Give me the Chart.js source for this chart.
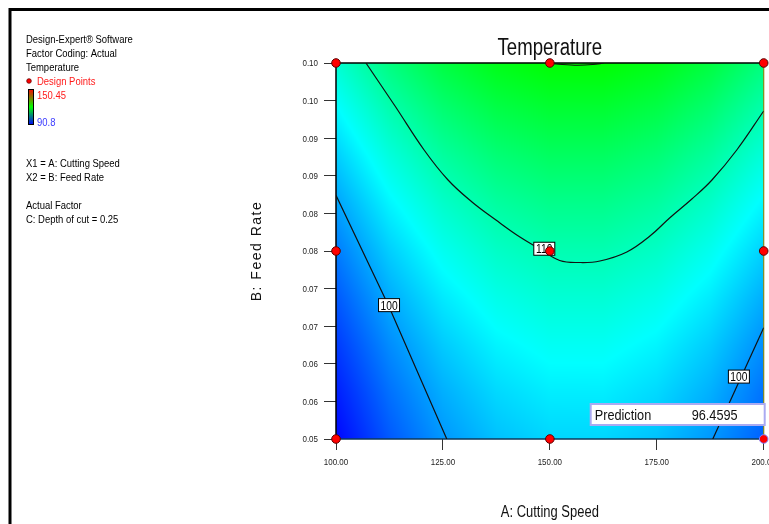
<!DOCTYPE html>
<html>
<head>
<meta charset="utf-8">
<title>Temperature</title>
<script src="https://cdn.jsdelivr.net/npm/chart.js@4.4.1/dist/chart.umd.min.js"></script>
<style>
  html, body { margin: 0; padding: 0; background: #fff; }
</style>
</head>
<body>
<canvas id="myChart" width="769" height="524"></canvas>
<script>
// grid of the fitted temperature surface
const cuttingSpeed = [100, 112.5, 125, 137.5, 150, 162.5, 175, 187.5, 200];
const feedRate = [0.05, 0.05625, 0.0625, 0.06875, 0.075, 0.08125, 0.0875, 0.09375, 0.10];
// rows go from feed 0.05 (bottom) up to feed 0.10 (top)
const temperature = [
  [91.10, 95.97, 99.63, 102.07, 103.30, 103.32, 102.13, 99.72, 96.46],
  [92.51, 97.38, 101.03, 103.48, 104.71, 104.73, 103.53, 101.13, 97.51],
  [94.13, 98.99, 102.65, 105.09, 106.33, 106.34, 105.15, 102.74, 99.13],
  [95.96, 100.83, 104.48, 106.93, 108.16, 108.18, 106.98, 104.58, 100.96],
  [98.00, 102.87, 106.53, 108.97, 110.20, 110.22, 109.03, 106.62, 103.00],
  [100.26, 105.13, 108.78, 111.23, 112.46, 112.48, 111.28, 108.88, 105.26],
  [102.73, 107.59, 111.25, 113.69, 114.93, 114.94, 113.75, 111.34, 107.73],
  [105.41, 110.28, 113.93, 116.38, 117.61, 117.63, 116.43, 114.03, 110.41],
  [108.30, 113.17, 116.83, 119.27, 120.50, 120.52, 119.33, 116.92, 113.30]
];
const colorMin = 90.8;
const colorMax = 150.45;

// design points
const designSpeed = [100, 150, 200, 100, 150, 200, 100, 150, 200];
const designFeed = [0.05, 0.05, 0.05, 0.075, 0.075, 0.075, 0.10, 0.10, 0.10];
const predictionValue = 96.4595;

// contour lines
const contour100Left = [{x: 100, y: 0.0824}, {x: 112.4, y: 0.0676}, {x: 125.9, y: 0.05}];
const contour100Right = [{x: 200, y: 0.0648}, {x: 188.1, y: 0.05}];
const contour110 = [
  {x: 107.0, y: 0.1000}, {x: 113.8, y: 0.09428}, {x: 120.6, y: 0.08843}, {x: 126.2, y: 0.08444},
  {x: 131.8, y: 0.08152}, {x: 137.4, y: 0.07912}, {x: 143.0, y: 0.07686}, {x: 147.7, y: 0.07527},
  {x: 152.3, y: 0.07374}, {x: 157.0, y: 0.07347}, {x: 161.7, y: 0.07367}, {x: 168.0, y: 0.07487},
  {x: 173.4, y: 0.07699}, {x: 178.0, y: 0.07939}, {x: 183.2, y: 0.08191}, {x: 187.9, y: 0.08444},
  {x: 193.7, y: 0.08843}, {x: 200.0, y: 0.09362}
];
const contour120 = [{x: 149.8, y: 0.10}, {x: 153, y: 0.0998}, {x: 156.5, y: 0.0997}, {x: 160, y: 0.0998}, {x: 162.6, y: 0.10}];
const contourLabelText = ['100', '110', '100'];
const contourLabelSpeed = [112.4, 148.7, 194.2];
const contourLabelFeed = [0.0678, 0.0753, 0.0583];

// axis ticks
const xTickValues = [100, 125, 150, 175, 200];
const xTickLabels = ['100.00', '125.00', '150.00', '175.00', '200.00'];
const yTickValues = [0.05, 0.055, 0.06, 0.065, 0.07, 0.075, 0.08, 0.085, 0.09, 0.095, 0.10];
const yTickLabels = ['0.05', '0.06', '0.06', '0.07', '0.07', '0.08', '0.08', '0.09', '0.09', '0.10', '0.10'];

const sans = "'Liberation Sans', Arial, sans-serif";
const colorStops = [[0, 0, 255], [0, 255, 255], [0, 255, 0], [255, 255, 0], [255, 0, 0]];

function tempColor(t) {
    var f = (t - colorMin) / (colorMax - colorMin) * 4;
    f = Math.max(0, Math.min(3.9999, f));
    var i = Math.floor(f), r = f - i;
    var a = colorStops[i], b = colorStops[i + 1];
    return [a[0] + (b[0] - a[0]) * r, a[1] + (b[1] - a[1]) * r, a[2] + (b[2] - a[2]) * r];
}

function tempAt(speed, feed) {
    var n = cuttingSpeed.length - 1, m = feedRate.length - 1;
    var gx = (speed - cuttingSpeed[0]) / (cuttingSpeed[1] - cuttingSpeed[0]);
    var gy = (feed - feedRate[0]) / (feedRate[1] - feedRate[0]);
    gx = Math.max(0, Math.min(n - 0.0001, gx));
    gy = Math.max(0, Math.min(m - 0.0001, gy));
    var i = Math.floor(gx), j = Math.floor(gy), u = gx - i, v = gy - j;
    var t00 = temperature[j][i], t10 = temperature[j][i + 1];
    var t01 = temperature[j + 1][i], t11 = temperature[j + 1][i + 1];
    return (t00 * (1 - u) + t10 * u) * (1 - v) + (t01 * (1 - u) + t11 * u) * v;
}

// condensed text: squeeze the regular face horizontally
function narrowText(ctx, text, x, y, size, squeeze, align, color) {
    ctx.save();
    ctx.translate(x, y);
    ctx.scale(squeeze, 1);
    ctx.font = size + 'px ' + sans;
    ctx.textAlign = align || 'left';
    ctx.textBaseline = 'alphabetic';
    ctx.fillStyle = color || '#000';
    ctx.fillText(text, 0, 0);
    ctx.restore();
}

const surfacePlugin = {
    id: 'surface',
    beforeDatasetsDraw(chart) {
        const ctx = chart.ctx, a = chart.chartArea;
        const xs = chart.scales.x, ys = chart.scales.y;
        const left = Math.round(a.left), top = Math.round(a.top);
        const w = Math.round(a.right) - left, h = Math.round(a.bottom) - top;
        const img = ctx.createImageData(w, h);
        for (let py = 0; py < h; py++) {
            const feed = ys.getValueForPixel(top + py + 0.5);
            for (let px = 0; px < w; px++) {
                const c = tempColor(tempAt(xs.getValueForPixel(left + px + 0.5), feed));
                const k = (py * w + px) * 4;
                img.data[k] = c[0];
                img.data[k + 1] = c[1];
                img.data[k + 2] = c[2];
                img.data[k + 3] = 255;
            }
        }
        ctx.putImageData(img, left, top);

        // plot frame
        ctx.save();
        ctx.lineWidth = 1.5;
        ctx.strokeStyle = '#000';
        ctx.beginPath();
        ctx.moveTo(a.left, a.bottom);
        ctx.lineTo(a.left, a.top);
        ctx.lineTo(a.right, a.top);
        ctx.stroke();
        ctx.strokeStyle = '#8a8a1a';
        ctx.lineWidth = 1.2;
        ctx.beginPath();
        ctx.moveTo(a.right, a.top);
        ctx.lineTo(a.right, a.bottom);
        ctx.stroke();
        ctx.strokeStyle = '#0b3a5c';
        ctx.lineWidth = 1.5;
        ctx.beginPath();
        ctx.moveTo(a.left, a.bottom);
        ctx.lineTo(a.right, a.bottom);
        ctx.stroke();
        ctx.restore();
    },
    beforeDatasetDraw(chart, args) {
        // contour labels sit under the design points
        if (args.index !== 0) return;
        const ctx = chart.ctx, xs = chart.scales.x, ys = chart.scales.y;
        for (let i = 0; i < contourLabelText.length; i++) {
            const cx = xs.getPixelForValue(contourLabelSpeed[i]);
            const cy = ys.getPixelForValue(contourLabelFeed[i]);
            ctx.save();
            ctx.fillStyle = '#fff';
            ctx.fillRect(cx - 10.5, cy - 6.5, 21, 13);
            ctx.strokeStyle = '#000';
            ctx.lineWidth = 1;
            ctx.strokeRect(cx - 10.5, cy - 6.5, 21, 13);
            ctx.restore();
            narrowText(ctx, contourLabelText[i], cx, cy + 4.5, 12.5, 0.82, 'center', '#000');
        }
    },
    afterDatasetsDraw(chart) {
        // prediction box for the selected point
        const ctx = chart.ctx, xs = chart.scales.x, ys = chart.scales.y;
        const px = xs.getPixelForValue(200), py = ys.getPixelForValue(0.05);
        ctx.save();
        ctx.fillStyle = '#fff';
        ctx.fillRect(px - 173, py - 35, 174, 21);
        ctx.strokeStyle = '#aaaaf2';
        ctx.lineWidth = 2;
        ctx.strokeRect(px - 173, py - 35, 174, 21);
        ctx.restore();
        narrowText(ctx, 'Prediction', px - 169, py - 19, 15.5, 0.82, 'left', '#111');
        narrowText(ctx, predictionValue.toFixed(4), px - 72, py - 19, 15.5, 0.82, 'left', '#111');
    },
    afterDraw(chart) {
        const ctx = chart.ctx, a = chart.chartArea;
        const xs = chart.scales.x, ys = chart.scales.y;

        // tick labels
        xTickValues.forEach((v, i) => {
            narrowText(ctx, xTickLabels[i], xs.getPixelForValue(v), 465, 9.5, 0.84, 'center', '#222');
        });
        yTickValues.forEach((v, i) => {
            narrowText(ctx, yTickLabels[i], 318, ys.getPixelForValue(v) + 3.4, 9.5, 0.84, 'right', '#222');
        });

        // titles
        narrowText(ctx, 'Temperature', (a.left + a.right) / 2, 55, 23, 0.81, 'center', '#111');
        narrowText(ctx, 'A: Cutting Speed', (a.left + a.right) / 2, 517, 16, 0.81, 'center', '#111');

        ctx.save();
        // outer frame
        ctx.strokeStyle = '#000';
        ctx.lineWidth = 3;
        ctx.strokeRect(10, 9.5, 800, 600);

        // colour bar
        const grad = ctx.createLinearGradient(0, 89, 0, 125);
        grad.addColorStop(0, '#ff0000');
        grad.addColorStop(0.5, '#00ff00');
        grad.addColorStop(1, '#0000ff');
        ctx.fillStyle = grad;
        ctx.fillRect(28.5, 89.5, 5, 35);
        ctx.strokeStyle = '#000';
        ctx.lineWidth = 1;
        ctx.strokeRect(28.5, 89.5, 5, 35);

        // design point marker
        ctx.beginPath();
        ctx.arc(29, 81, 2.3, 0, Math.PI * 2);
        ctx.fillStyle = '#ff0000';
        ctx.fill();
        ctx.strokeStyle = '#600';
        ctx.lineWidth = 0.8;
        ctx.stroke();
        ctx.restore();

        // side notes
        const sq = 0.86;
        narrowText(ctx, 'Design-Expert\u00AE Software', 26, 43, 11, sq);
        narrowText(ctx, 'Factor Coding: Actual', 26, 57, 11, sq);
        narrowText(ctx, 'Temperature', 26, 71, 11, sq);
        narrowText(ctx, 'Design Points', 37, 85, 11, sq, 'left', '#ff1a1a');
        narrowText(ctx, colorMax.toString(), 37, 99, 11, sq, 'left', '#ff1a1a');
        narrowText(ctx, colorMin.toString(), 37, 126, 11, sq, 'left', '#3a3aff');
        narrowText(ctx, 'X1 = A: Cutting Speed', 26, 167, 11, sq);
        narrowText(ctx, 'X2 = B: Feed Rate', 26, 181, 11, sq);
        narrowText(ctx, 'Actual Factor', 26, 209, 11, sq);
        narrowText(ctx, 'C: Depth of cut = 0.25', 26, 223, 11, sq);

        // y axis title
        ctx.save();
        ctx.translate(257, 251);
        ctx.rotate(-Math.PI / 2);
        ctx.font = '14px ' + sans;
        ctx.letterSpacing = '1.5px';
        ctx.textAlign = 'center';
        ctx.textBaseline = 'middle';
        ctx.fillStyle = '#111';
        ctx.fillText('B: Feed Rate', 0, 0);
        ctx.restore();
    }
};

var ctx = document.getElementById('myChart').getContext('2d');
var myChart = new Chart(ctx, {
    data: {
        datasets: [
            {
                type: 'scatter',
                label: 'Design Points',
                data: designSpeed.map((s, i) => ({x: s, y: designFeed[i]})),
                pointRadius: 4.3,
                backgroundColor: '#ff0000',
                borderColor: designSpeed.map((s, i) => (s === 200 && designFeed[i] === 0.05) ? '#8080ff' : '#5a0000'),
                borderWidth: 1,
                clip: false
            },
            { type: 'line', label: '100', data: contour100Left, borderColor: '#111', borderWidth: 1.2, pointRadius: 0, tension: 0, fill: false },
            { type: 'line', label: '100', data: contour100Right, borderColor: '#111', borderWidth: 1.2, pointRadius: 0, tension: 0, fill: false },
            { type: 'line', label: '110', data: contour110, borderColor: '#111', borderWidth: 1.2, pointRadius: 0, tension: 0.4, fill: false },
            { type: 'line', label: '120', data: contour120, borderColor: '#111', borderWidth: 1.2, pointRadius: 0, cubicInterpolationMode: 'monotone', fill: false }
        ]
    },
    options: {
        responsive: false,
        animation: false,
        events: [],
        layout: { padding: { top: 63, left: 0, right: 5, bottom: 0 } },
        plugins: {
            legend: { display: false },
            tooltip: { enabled: false },
            title: { display: false }
        },
        scales: {
            x: {
                type: 'linear',
                min: 100,
                max: 200,
                border: { display: false },
                grid: { drawOnChartArea: false, drawTicks: true, tickLength: 11, color: '#333' },
                ticks: { display: false, autoSkip: false },
                afterBuildTicks: s => { s.ticks = xTickValues.map(v => ({value: v})); },
                afterFit: s => { s.height = 85; s.paddingLeft = 0; s.paddingRight = 0; }
            },
            y: {
                type: 'linear',
                min: 0.05,
                max: 0.10,
                border: { display: false },
                grid: { drawOnChartArea: false, drawTicks: true, tickLength: 12, color: '#333' },
                ticks: { display: false, autoSkip: false },
                afterBuildTicks: s => { s.ticks = yTickValues.map(v => ({value: v})); },
                afterFit: s => { s.width = 336; s.paddingTop = 0; s.paddingBottom = 0; }
            }
        }
    },
    plugins: [surfacePlugin]
});
</script>
</body>
</html>
